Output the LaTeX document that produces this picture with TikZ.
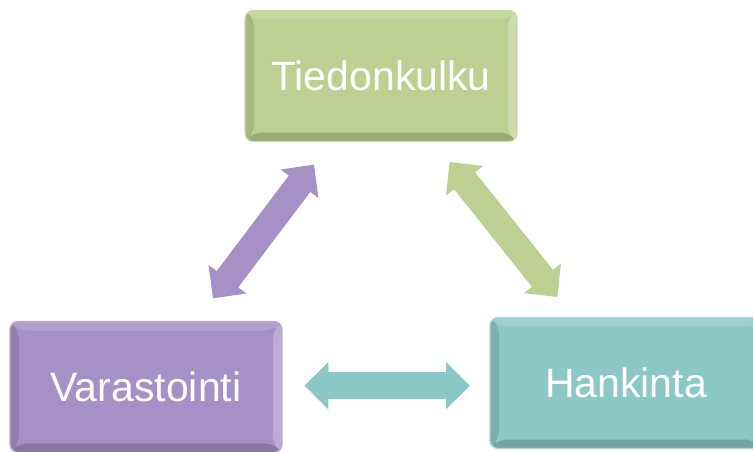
\documentclass[tikz,border=0pt]{standalone}
\usepackage{fontspec}
\setmainfont{Liberation Sans}
\usetikzlibrary{arrows.meta,calc}
\definecolor{greenbox}{RGB}{189,208,146}
\definecolor{purplebox}{RGB}{165,145,197}
\definecolor{tealbox}{RGB}{140,200,200}

\begin{document}
\begin{tikzpicture}[x=1pt,y=-1pt,
    box/.style={rounded corners=8pt, fill=#1, draw=#1!75!white, line width=1.2pt,
      minimum width=272pt, minimum height=131pt, inner sep=0pt, text=white,
      font=\fontsize{41}{49}\selectfont,
      path picture={
        \fill[#1!88!black] (path picture bounding box.south west) -- (path picture bounding box.north west)
          -- ++(9pt,-9pt) -- ($(path picture bounding box.south west)+(9pt,9pt)$) -- cycle;
        \fill[#1!82!black] (path picture bounding box.south west) -- (path picture bounding box.south east)
          -- ++(-9pt,9pt) -- ($(path picture bounding box.south west)+(9pt,9pt)$) -- cycle;
        \fill[#1!85!white] (path picture bounding box.north west) -- (path picture bounding box.north east)
          -- ++(-9pt,-9pt) -- ($(path picture bounding box.north west)+(9pt,-9pt)$) -- cycle;
        \fill[#1!75!white] (path picture bounding box.north east) -- (path picture bounding box.south east)
          -- ++(-9pt,9pt) -- ($(path picture bounding box.north east)+(-9pt,-9pt)$) -- cycle;
      }},
    link/.style={draw=#1, line width=27pt,
      {Triangle[length=24pt,width=46pt]}-{Triangle[length=24pt,width=46pt]}}]
  \useasboundingbox (0,0) rectangle (753,452);

  % Boxes
  \node[box=greenbox] (tied) at (381,76) {Tiedonkulku};
  \node[box=purplebox] (vara) at (146,387) {Varastointi};
  \node[box=tealbox] (hank) at (626,383) {Hankinta};

  % Arrows
  \draw[link=purplebox] ($(vara)!0.285!(tied)$) -- ($(vara)!0.715!(tied)$);
  \draw[link=greenbox] ($(tied)!0.28!(hank)$) -- ($(tied)!0.72!(hank)$);
  \coordinate (h1) at ($(vara)!0.33!(hank)$);
  \coordinate (h2) at ($(vara)!0.675!(hank)$);
  \draw[link=tealbox] (h1) -- (h1 -| h2);
\end{tikzpicture}
\end{document}
